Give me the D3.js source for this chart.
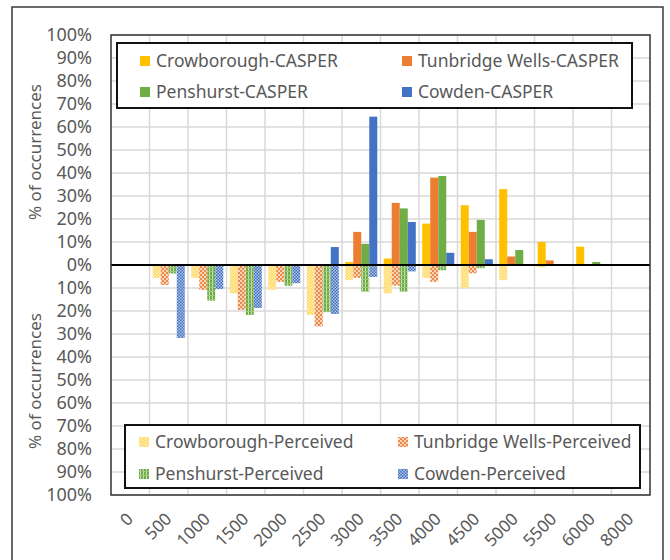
<!DOCTYPE html>
<html>
<head>
<meta charset="utf-8">
<script src="https://cdn.jsdelivr.net/npm/d3@7"></script>
<style>
  body { margin: 0; background: #fff; }
  text { font-family: "Noto Sans", "Open Sans", sans-serif; }
</style>
</head>
<body>
<div id="chart"></div>
<script>
// x categories (distance bins)
const categories = ['0', '500', '1000', '1500', '2000', '2500', '3000', '3500', '4000', '4500', '5000', '5500', '6000', '8000'];

// series names
const casperNames = ['Crowborough-CASPER', 'Tunbridge Wells-CASPER', 'Penshurst-CASPER', 'Cowden-CASPER'];
const perceivedNames = ['Crowborough-Perceived', 'Tunbridge Wells-Perceived', 'Penshurst-Perceived', 'Cowden-Perceived'];

// CASPER values (% of occurrences, drawn upwards)
const crowCasper = [0, 0, 0, 0, 0, 0, 1.3, 2.8, 18, 26, 33, 10, 8, 0];
const tunbCasper = [0, 0, 0, 0, 0, 0, 14.4, 27, 38, 14.4, 3.7, 2, 0, 0];
const pensCasper = [0, 0, 0, 0, 0, 0, 9.2, 24.6, 38.7, 19.6, 6.5, 0, 1.3, 0];
const cowdCasper = [0, 0, 0, 0, 0, 7.8, 64.5, 18.7, 5.3, 2.5, 0, 0, 0, 0];

// Perceived values (% of occurrences, drawn downwards)
const crowPerceived = [0, 5.6, 5.6, 12.3, 10.8, 21.7, 6.6, 12.3, 5.6, 9.9, 6.6, 1, 0, 0];
const tunbPerceived = [0, 8.7, 10.8, 19.5, 7.3, 26.7, 5.6, 9, 7.3, 3.6, 0, 0, 0, 0];
const pensPerceived = [0, 3.7, 15.5, 21.7, 9, 20.5, 11.6, 11.6, 2.3, 1.4, 0, 0, 0, 0];
const cowdPerceived = [0, 31.7, 10.5, 18.7, 7.9, 21.3, 5.2, 2.8, 0, 0, 0, 0, 0, 0];

// y tick values
const yTicks = [-100, -90, -80, -70, -60, -50, -40, -30, -20, -10, 0, 10, 20, 30, 40, 50, 60, 70, 80, 90, 100];

const colors = ['#FFC000', '#ED7D31', '#70AD47', '#4472C4'];
const casperData = [crowCasper, tunbCasper, pensCasper, cowdCasper];
const perceivedData = [crowPerceived, tunbPerceived, pensPerceived, cowdPerceived];

const W = 670, H = 560;
const svg = d3.select('#chart').append('svg').attr('width', W).attr('height', H);

// patterns for the perceived series
const defs = svg.append('defs');
function checker(id, base, light, size) {
    const p = defs.append('pattern').attr('id', id).attr('patternUnits', 'userSpaceOnUse')
        .attr('width', size * 2).attr('height', size * 2);
    p.append('rect').attr('width', size * 2).attr('height', size * 2).attr('fill', base);
    p.append('rect').attr('x', 0).attr('y', 0).attr('width', size).attr('height', size).attr('fill', light);
    p.append('rect').attr('x', size).attr('y', size).attr('width', size).attr('height', size).attr('fill', light);
}
checker('pat0', '#FFD75E', '#FFEFB8', 1.5);
checker('pat1', '#EE8A48', '#FAD3B8', 2);
const ps = defs.append('pattern').attr('id', 'pat2').attr('patternUnits', 'userSpaceOnUse')
    .attr('width', 3).attr('height', 4);
ps.append('rect').attr('width', 3).attr('height', 4).attr('fill', '#70AD47');
ps.append('rect').attr('x', 2).attr('width', 1).attr('height', 4).attr('fill', '#C6E0B4');
ps.append('rect').attr('y', 3).attr('width', 3).attr('height', 1).attr('fill', '#9CC77F');
checker('pat3', '#3E6CC0', '#B4C7E7', 1.5);

// outer frame
svg.append('rect').attr('x', 12).attr('y', 7).attr('width', 651).attr('height', 600)
    .attr('fill', 'none').attr('stroke', '#3a3a3a').attr('stroke-width', 1.5);

const plot = {left: 111, right: 650, top: 35, bottom: 495};

const x = d3.scaleBand().domain(categories).range([plot.left, plot.right]).padding(0);
const xs = d3.scaleBand().domain(d3.range(4)).range([0, x.bandwidth()]).paddingInner(0).paddingOuter(0.4);
const y = d3.scaleLinear().domain([-100, 100]).range([plot.bottom, plot.top]);

// gridlines
const grid = svg.append('g');
grid.selectAll('.hg').data(yTicks).enter().append('line')
    .attr('x1', plot.left).attr('x2', plot.right)
    .attr('y1', d => y(d)).attr('y2', d => y(d))
    .attr('stroke', '#d9d9d9').attr('stroke-width', 1.5);
grid.selectAll('.vg').data(categories.slice(1)).enter().append('line')
    .attr('x1', d => x(d)).attr('x2', d => x(d))
    .attr('y1', plot.top).attr('y2', plot.bottom)
    .attr('stroke', '#d9d9d9').attr('stroke-width', 1.5);

// bars
casperData.forEach((vals, i) => {
    svg.append('g').selectAll('rect').data(vals).enter().append('rect')
        .attr('x', (d, j) => x(categories[j]) + xs(i))
        .attr('width', xs.bandwidth())
        .attr('y', d => y(d))
        .attr('height', d => y(0) - y(d))
        .attr('fill', colors[i]);
});
perceivedData.forEach((vals, i) => {
    svg.append('g').selectAll('rect').data(vals).enter().append('rect')
        .attr('x', (d, j) => x(categories[j]) + xs(i))
        .attr('width', xs.bandwidth())
        .attr('y', y(0))
        .attr('height', d => y(-d) - y(0))
        .attr('fill', `url(#pat${i})`);
});

// zero line
svg.append('line').attr('x1', plot.left).attr('x2', plot.right)
    .attr('y1', y(0)).attr('y2', y(0)).attr('stroke', '#000').attr('stroke-width', 2);

// plot border
svg.append('rect').attr('x', plot.left).attr('y', plot.top)
    .attr('width', plot.right - plot.left).attr('height', plot.bottom - plot.top)
    .attr('fill', 'none').attr('stroke', '#333').attr('stroke-width', 1.5);

// y axis labels
const yAxis = svg.append('g').attr('transform', `translate(${plot.left},0)`)
    .call(d3.axisLeft(y).tickValues(yTicks).tickSize(0).tickPadding(19).tickFormat(d => Math.abs(d) + '%'));
yAxis.select('.domain').remove();
yAxis.selectAll('text').attr('fill', '#595959').style('font-size', '18px')
    .style('font-family', '"Noto Sans", sans-serif');

// x axis labels
const xAxis = svg.append('g').attr('transform', `translate(0,${plot.bottom})`)
    .call(d3.axisBottom(x).tickSize(0).tickPadding(0));
xAxis.select('.domain').remove();
xAxis.selectAll('text')
    .attr('fill', '#595959').style('font-size', '17px')
    .style('font-family', '"Noto Sans", sans-serif')
    .attr('text-anchor', 'end')
    .attr('y', 0).attr('dy', 0)
    .attr('transform', 'translate(4,25) rotate(-45)');

// y titles
[152, 381].forEach(cy => {
    svg.append('text').attr('transform', `translate(41,${cy}) rotate(-90)`)
        .attr('text-anchor', 'middle').attr('fill', '#595959').style('font-size', '17px')
        .text('% of occurrences');
});

// legends
function legend(names, box, fills) {
    const g = svg.append('g');
    g.append('rect').attr('x', box.x).attr('y', box.y).attr('width', box.w).attr('height', box.h)
        .attr('fill', '#fff').attr('stroke', '#111').attr('stroke-width', 2);
    names.forEach((n, i) => {
        const col = i % 2, row = Math.floor(i / 2);
        const lx = box.cols[col], ly = box.rows[row];
        g.append('rect').attr('x', lx).attr('y', ly - 5).attr('width', 10).attr('height', 10).attr('fill', fills[i]);
        g.append('text').attr('x', lx + 16).attr('y', ly).attr('dy', '0.35em')
            .attr('fill', '#595959').style('font-size', '17.5px').text(n);
    });
}
legend(casperNames, {x: 117, y: 43, w: 515, h: 65, cols: [140, 402], rows: [61, 92]}, colors);
legend(perceivedNames, {x: 125, y: 425, w: 515, h: 63, cols: [139, 398], rows: [442, 474]},
    d3.range(4).map(i => `url(#pat${i})`));
</script>
</body>
</html>
